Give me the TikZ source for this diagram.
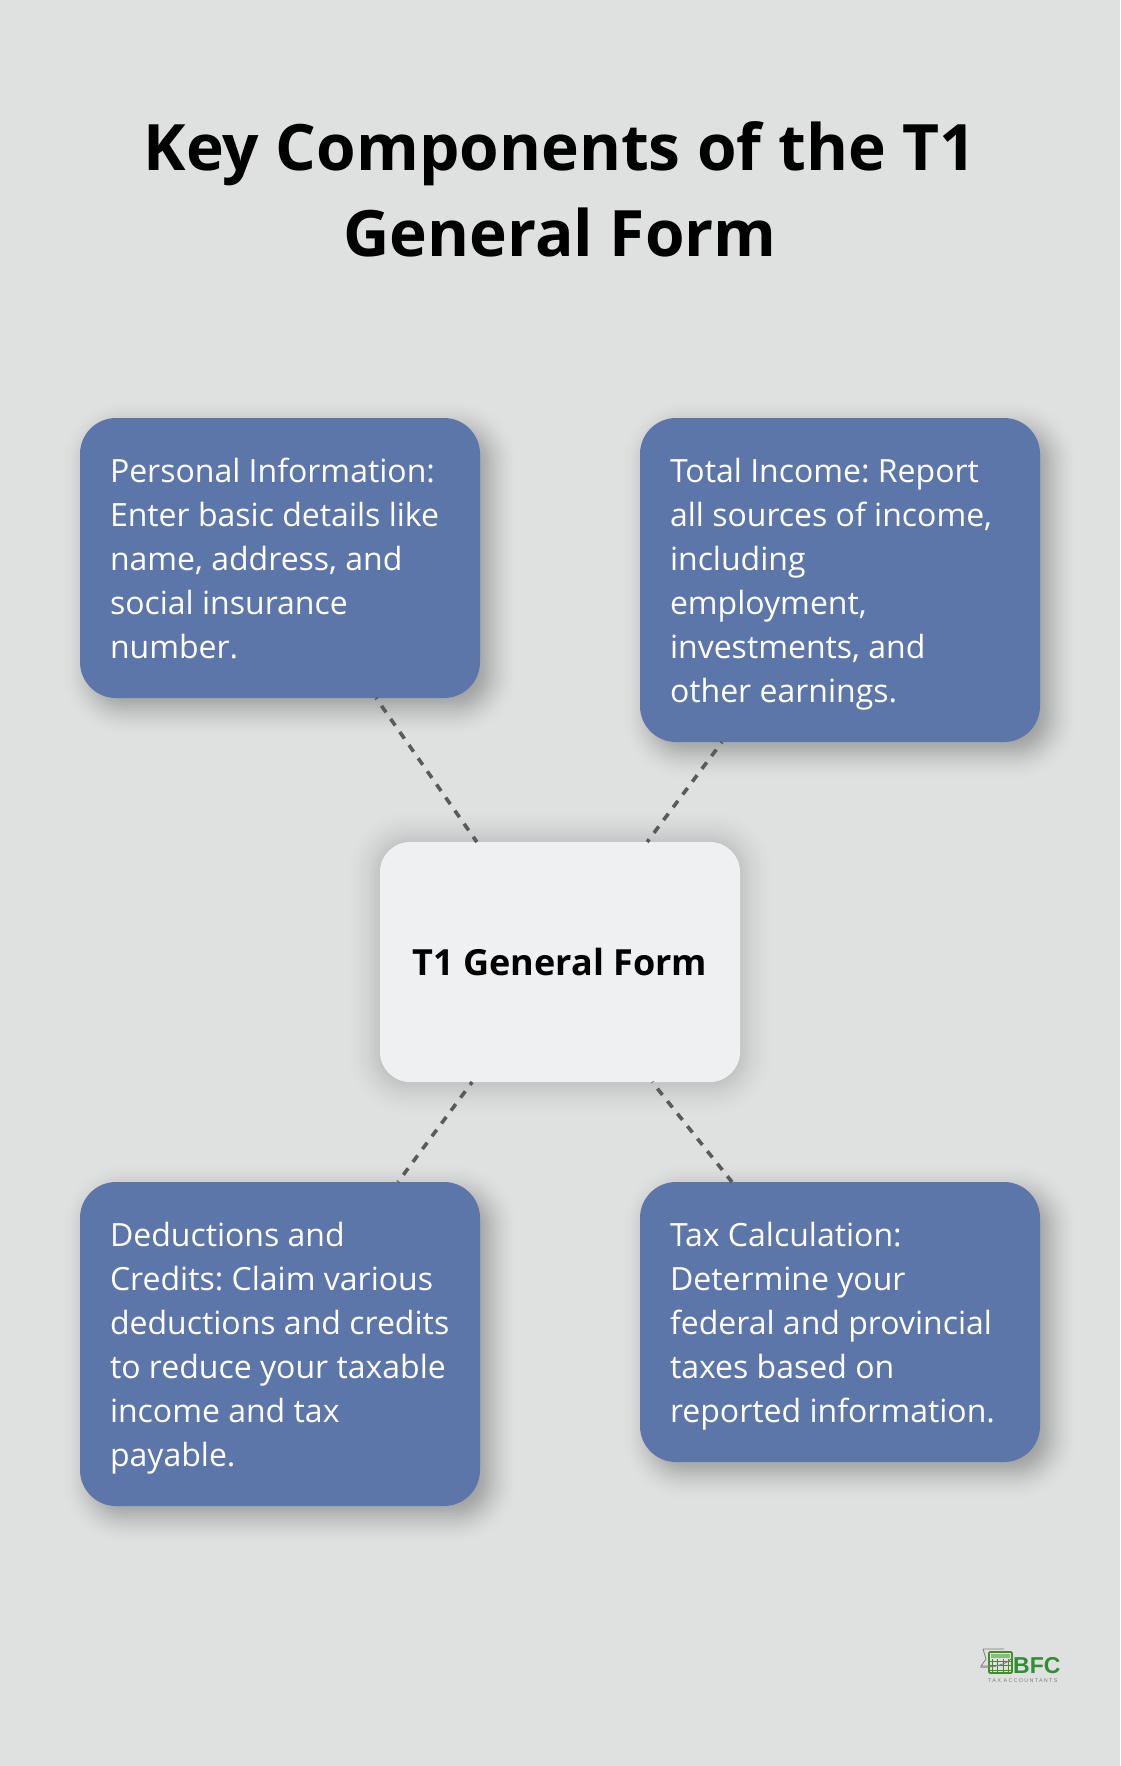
\documentclass[tikz,border=0pt]{standalone}
\usepackage{fontspec}
\setmainfont{Open Sans}
\newfontfamily\logofont{Liberation Sans}
\newfontfamily\logosubfont[LetterSpace=24]{Liberation Sans}
\usetikzlibrary{calc,backgrounds}
\definecolor{pagebg}{HTML}{DFE1E0}
\definecolor{boxblue}{HTML}{5D76A9}
\definecolor{centerfill}{HTML}{EEF0F2}
\definecolor{dashcol}{HTML}{5A5A5A}
\definecolor{logogreen}{HTML}{4FA52E}
\definecolor{logodark}{HTML}{2F8F32}
\definecolor{logogrey}{HTML}{7A7F7E}
\newcommand{\topfix}{\rule{0pt}{34.3pt}}
\newcommand{\botfix}{\rule[-10pt]{0pt}{10pt}}
\tikzset{
  x=1pt,y=-1pt,
  infobox/.style={anchor=north west,fill=boxblue,text=white,rounded corners=36pt,inner sep=0pt,outer sep=0pt,
    minimum width=400pt,align=flush left,text width=340pt,
    font=\fontsize{32}{44}\selectfont\frenchspacing},
  centerbox/.style={anchor=north west,fill=centerfill,text=black,rounded corners=30pt,inner sep=0pt,outer sep=0pt,
    minimum width=360pt,minimum height=240pt,align=center,font=\fontsize{36}{48}\selectfont\bfseries},
  titletext/.style={anchor=center,align=center,text=black,font=\fontsize{64}{86.5}\selectfont\bfseries},
  linkline/.style={draw=dashcol,line width=3.6pt,dash pattern=on 8pt off 8pt,dash phase=6.5pt},
}
% soft shadow: stacked rounded rectangles; #1 node, #2 dx, #3 dy, #4 corner radius, #5 layers each side (2.5pt apart), #6 peak layer opacity
\newcommand{\softshadow}[6]{%
  \foreach \k in {-#5,...,#5}{
    \pgfmathsetmacro{\s}{2.5*\k}
    \pgfmathsetmacro{\rr}{max(2,#4-\s)}
    \pgfmathsetmacro{\oo}{#6*max(0.02,1-abs(\k)/#5)}
    \fill[black,opacity=\oo,rounded corners=\rr pt]
      ($(#1.north west)+(#2+\s,#3+\s)$) rectangle ($(#1.south east)+(#2-\s,#3-\s)$);
  }
}
\begin{document}
\begin{tikzpicture}
\useasboundingbox (0,0) rectangle (1120,1766);

\node[titletext] (title) at (560,189.5) {Key Components of the T1\\General Form};

\node[infobox,minimum height=280pt] (tl) at (80,418) {\topfix Personal Information:\\Enter basic details like\\name, address, and\\social insurance\\number.\botfix};
\node[infobox,minimum height=324pt] (tr) at (640,418) {\topfix Total Income: Report\\all sources of income,\\including\\employment,\\investments, and\\other earnings.\botfix};
\node[centerbox] (c) at (380,842) {T1 General Form};
\node[infobox,minimum height=324pt] (bl) at (80,1182) {\topfix Deductions and\\Credits: Claim various\\deductions and credits\\to reduce your taxable\\income and tax\\payable.\botfix};
\node[infobox,minimum height=280pt] (br) at (640,1182) {\topfix Tax Calculation:\\Determine your\\federal and provincial\\taxes based on\\reported information.\botfix};

\begin{pgfonlayer}{background}
  \fill[pagebg] (0,0) rectangle (1120,1766);
  \softshadow{tl}{10}{10}{36}{12}{0.026}
  \softshadow{tr}{10}{10}{36}{12}{0.026}
  \softshadow{bl}{10}{10}{36}{12}{0.026}
  \softshadow{br}{10}{10}{36}{12}{0.026}
  \softshadow{c}{0}{1}{30}{16}{0.0135}
\end{pgfonlayer}

\draw[linkline] ($(tl.south west)!0.74!(tl.south east)$) -- ($(c.north west)!0.269!(c.north east)$);
\draw[linkline] ($(tr.south west)!0.205!(tr.south east)$) -- ($(c.north west)!0.742!(c.north east)$);
\draw[linkline,dash phase=4.5pt] ($(c.south west)!0.256!(c.south east)$) -- ($(bl.north west)!0.795!(bl.north east)$);
\draw[linkline,dash phase=7.5pt] ($(c.south west)!0.756!(c.south east)$) -- ($(br.north west)!0.23!(br.north east)$);

% logo
\draw[logogrey,line width=0.8pt] (983,1649) -- (1004,1649) (983,1649) -- (986,1659) -- (981,1666) -- (992,1666);
\draw[logogreen!85!black,line width=1.6pt,rounded corners=1pt] (989,1652) rectangle (1012,1673);
\fill[logogreen!70] (991,1653.5) rectangle (1010,1658);
\foreach \i in {0,1,2,3}{\draw[logogreen!85!black,line width=0.7pt] (992+\i*5.6,1659) -- (992+\i*5.6,1672);}
\foreach \j in {0,1,2}{\draw[logogreen!85!black,line width=0.7pt] (990,1661+\j*4.5) -- (1011,1661+\j*4.5);}
\draw[logogrey,line width=0.9pt] (980,1667) .. controls (995,1668) and (1007,1664) .. (1013,1657);
\node[anchor=west,inner sep=0pt,text=logodark,font=\fontsize{23}{23}\logofont\bfseries] (logotext) at (1013,1666) {BFC};
\node[anchor=west,inner sep=0pt,text=logogrey,font=\fontsize{5.4}{6}\logosubfont] (logosub) at (988,1681) {TAX ACCOUNTANTS};
\end{tikzpicture}
\end{document}
